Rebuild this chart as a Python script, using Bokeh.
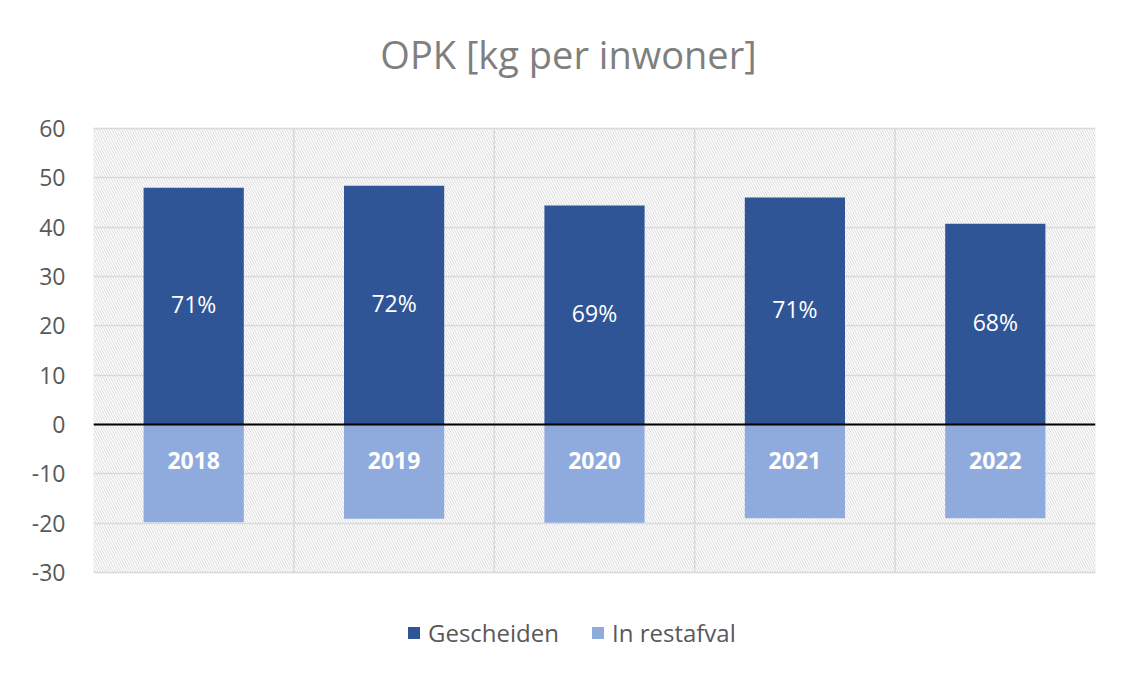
from bokeh.plotting import figure
from bokeh.models import (ColumnDataSource, Legend, LegendItem, Span, BoxAnnotation,
                          FixedTicker, Label)
from bokeh.core.properties import value
from bokeh.embed import file_html
from bokeh.resources import INLINE

# ---- data ----
title_text = "OPK [kg per inwoner]"
years = ["2018", "2019", "2020", "2021", "2022"]
gescheiden = [48.0, 48.4, 44.4, 46.0, 40.7]
restafval = [-19.8, -19.1, -19.9, -19.0, -19.0]
pct_labels = ["71%", "72%", "69%", "71%", "68%"]
y_ticks = [-30, -20, -10, 0, 10, 20, 30, 40, 50, 60]

FONT = "Open Sans"
DARK = "#2F5597"
LIGHT = "#8FAADC"
GRID = "#d9d9d9"
TXT = "#595959"

# ---- layout (pixels) ----
W, H = 1123, 667
TOP, LEFT, RIGHT = 128, 93, 28      # position of the value area in the canvas
AREA_PX = 444                       # pixel height of the value area (-30..60)
TITLE_Y = 53                        # canvas y of title anchor
TITLE_CENTER = 568                  # canvas x of title centre

n = len(years)
ymin, ymax = y_ticks[0], y_ticks[-1]
px_per_y = AREA_PX / (ymax - ymin)
px_per_x = (W - LEFT - RIGHT) / n
# frame covers the full canvas height: title above, legend below the value area
y_end = ymax + TOP / px_per_y
y_start = ymax - (H - TOP) / px_per_y

xpos = [i + 0.5 for i in range(n)]
src = ColumnDataSource(dict(
    x=xpos, year=years, ges=gescheiden, rest=restafval, pct=pct_labels,
    pct_y=[g / 2 for g in gescheiden], zero=[0] * n,
))

p = figure(width=W, height=H, output_backend="svg", toolbar_location=None,
           title=None, x_range=(0, n), y_range=(y_start, y_end),
           min_border_left=LEFT, min_border_right=RIGHT, min_border_top=0,
           min_border_bottom=0, background_fill_color="white",
           border_fill_color="white", outline_line_color=None)

# hatched plot area with border
bg = BoxAnnotation(left=0, right=n, bottom=ymin, top=ymax,
                   fill_color="white", line_color=GRID, line_width=1.5,
                   hatch_pattern="left_diagonal_line", hatch_color="#dadada",
                   hatch_scale=5, hatch_weight=1, level="image")
p.add_layout(bg)

# vertical category separators
bx = list(range(1, n))
p.segment(x0=bx, x1=bx, y0=[ymin] * len(bx), y1=[ymax] * len(bx),
          line_color=GRID, line_width=1.5)

r1 = p.vbar(x="x", top="ges", bottom=0, width=0.5, source=src,
            fill_color=DARK, line_color=None)
r2 = p.vbar(x="x", top=0, bottom="rest", width=0.5, source=src,
            fill_color=LIGHT, line_color=None)

p.text(x="x", y="pct_y", text="pct", source=src, text_color="white",
       text_font=value(FONT), text_font_size="23px", text_align="center",
       text_baseline="middle", y_offset=-2)
p.text(x="x", y="zero", text="year", source=src, text_color="white",
       text_font=value(FONT), text_font_size="23px", text_font_style="bold",
       text_align="center", text_baseline="top", y_offset=27)

p.add_layout(Span(location=0, dimension="width", line_color="black", line_width=2))

# grid lines only across the value area
p.ygrid.ticker = FixedTicker(ticks=y_ticks)
p.ygrid.grid_line_color = GRID
p.ygrid.grid_line_width = 1.5
p.xgrid.visible = False

# axes
p.xaxis.visible = False
p.yaxis.ticker = FixedTicker(ticks=y_ticks)
p.yaxis.major_label_overrides = {t: str(t) for t in y_ticks}
p.yaxis.axis_line_color = None
p.yaxis.major_tick_line_color = None
p.yaxis.minor_tick_line_color = None
p.yaxis.major_label_text_font = FONT
p.yaxis.major_label_text_font_size = "23px"
p.yaxis.major_label_text_color = TXT
p.yaxis.major_label_standoff = 22

# title
p.add_layout(Label(x=(TITLE_CENTER - LEFT) / px_per_x,
                   y=ymax + (TOP - TITLE_Y) / px_per_y,
                   text=title_text, text_align="center",
                   text_baseline="alphabetic", text_font=FONT,
                   text_font_size="38px", text_color="#7f7f7f"))

legend = Legend(items=[LegendItem(label="Gescheiden", renderers=[r1]),
                       LegendItem(label="In restafval", renderers=[r2])],
                orientation="horizontal", location=(313, 18),
                glyph_width=15, glyph_height=15, label_text_font=FONT,
                label_text_font_size="24px", label_text_color=TXT,
                border_line_color=None, background_fill_alpha=0,
                spacing=31, margin=0, padding=10, label_standoff=7)
p.add_layout(legend, "center")

open("out.html", "w").write(file_html(p, INLINE))
